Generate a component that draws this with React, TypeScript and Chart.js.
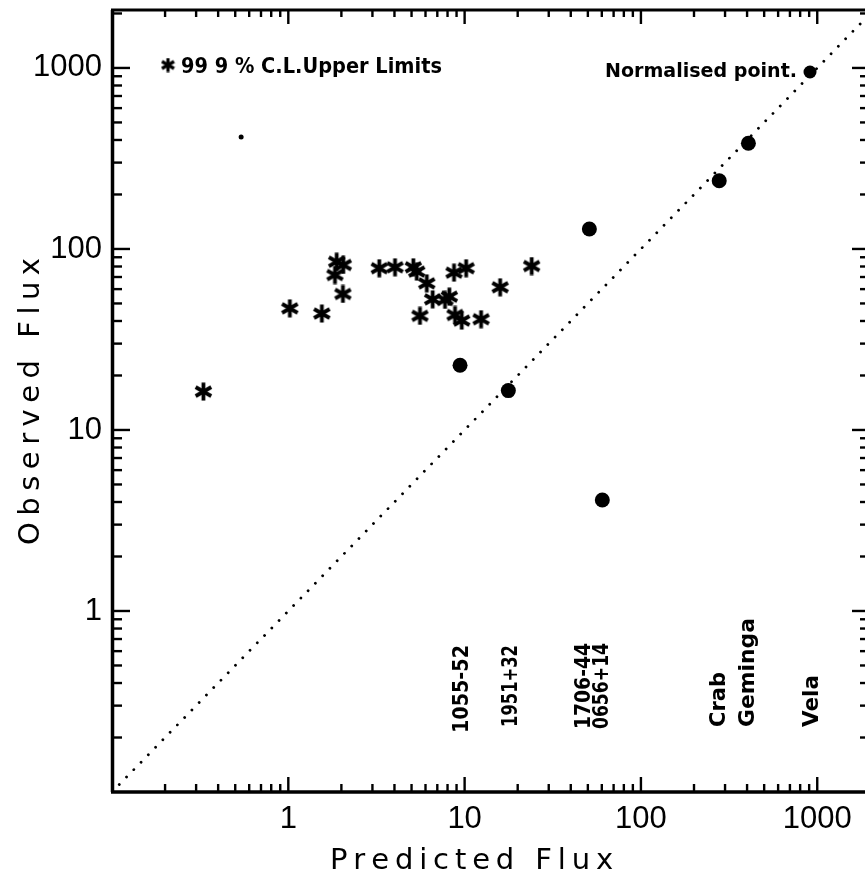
import React, { useEffect, useRef } from 'react';
import { Chart, registerables } from 'chart.js';
Chart.register(...registerables);

// ---- data ----
const pulsarNames = ['Vela', 'Geminga', 'Crab', '1706-44', '0656+14', '1951+32', '1055-52'];
const detectedX = [910, 407, 278, 51, 60.4, 17.7, 9.42];
const detectedY = [950, 384, 238, 129, 4.1, 16.5, 22.8];

const upperLimitX = [0.33, 1.02, 1.55, 1.88, 2.05, 1.84, 2.04, 3.28, 4.03, 5.12, 5.35, 6.1, 6.59, 7.74, 8.19, 5.58, 8.71, 10.2, 8.82, 9.63, 12.4, 15.9, 24.0];
const upperLimitY = [16.3, 47, 44, 85, 81.6, 71.8, 56.4, 78.3, 79.2, 79.2, 75, 64.6, 52.7, 52.3, 54.5, 42.7, 74, 78.3, 43.2, 40.2, 40.9, 61.4, 80.5];

const strayX = [0.54];
const strayY = [416];

const diagonalValues = [0.1, 2100];

const xTickValues = [1, 10, 100, 1000];
const yTickValues = [1, 10, 100, 1000];
const xRange = [0.1, 1866];
const yRange = [0.1, 2090];

const legendText = '99 9 % C.L.Upper Limits';
const normText = 'Normalised point.';
const xTitle = 'Predicted Flux';
const yTitle = 'Observed Flux';

// ---- styles (label placement) ----
const labelStyle: Record<string, { dx: number; y0: number; len: number }> = {
  'Vela': { dx: 8, y0: 727, len: 52 },
  'Geminga': { dx: 6, y0: 727, len: 109 },
  'Crab': { dx: 6, y0: 727, len: 55 },
  '1706-44': { dx: 1, y0: 729, len: 86 },
  '0656+14': { dx: 6, y0: 729, len: 86 },
  '1951+32': { dx: 9, y0: 727, len: 82 },
  '1055-52': { dx: 8, y0: 733, len: 88 },
};

const W = 865;
const H = 875;
const TICK_FONT = '31px "Liberation Sans", Arial, sans-serif';

function makeAsterisk(size: number, lw: number) {
  const c = document.createElement('canvas');
  c.width = size;
  c.height = size;
  const ctx = c.getContext('2d')!;
  ctx.strokeStyle = '#000';
  ctx.lineWidth = lw;
  ctx.lineCap = 'butt';
  const m = size / 2;
  const r = size / 2 - 0.5;
  [90, 30, 150].forEach((deg) => {
    const a = (deg * Math.PI) / 180;
    const dx = Math.cos(a) * r;
    const dy = Math.sin(a) * r;
    ctx.beginPath();
    ctx.moveTo(m - dx, m - dy);
    ctx.lineTo(m + dx, m + dy);
    ctx.stroke();
  });
  return c;
}

function drawText(
  ctx: CanvasRenderingContext2D,
  text: string,
  x: number,
  y: number,
  font: string,
  targetW: number,
  rot: number,
  mode: 'scale' | 'space'
) {
  ctx.save();
  ctx.translate(x, y);
  ctx.rotate(rot);
  ctx.font = font;
  ctx.fillStyle = '#000';
  ctx.textAlign = 'left';
  ctx.textBaseline = 'alphabetic';
  const w = ctx.measureText(text).width;
  if (mode === 'scale') {
    ctx.scale(targetW / w, 1);
    ctx.fillText(text, 0, 0);
  } else {
    const chars = Array.from(text);
    const extra = (targetW - w) / (chars.length - 1);
    let cx = 0;
    chars.forEach((ch) => {
      ctx.fillText(ch, cx, 0);
      cx += ctx.measureText(ch).width + extra;
    });
  }
  ctx.restore();
}

export default function App() {
  const ref = useRef<HTMLCanvasElement | null>(null);

  useEffect(() => {
    if (!ref.current) return;
    const star = makeAsterisk(19, 3.8);
    const legendStar = makeAsterisk(15, 3.2);

    // stretch the plot area (and the x scale) to the right edge of the canvas
    const fullWidthPlugin = {
      id: 'fullWidth',
      afterLayout(chart: any) {
        const xs = chart.scales.x;
        const target = chart.width;
        chart.chartArea.right = target;
        chart.chartArea.width = target - chart.chartArea.left;
        xs.right = target;
        xs.width = target - xs.left;
        xs.configure();
      },
    };

    const framePlugin = {
      id: 'frameAndText',
      afterDatasetsDraw(chart: any) {
        const ctx: CanvasRenderingContext2D = chart.ctx;
        const xs = chart.scales.x;
        const ys = chart.scales.y;
        const { left, right, top, bottom } = chart.chartArea;
        ctx.save();
        ctx.strokeStyle = '#000';
        ctx.lineCap = 'butt';
        ctx.lineWidth = 3.5;
        ctx.beginPath();
        ctx.moveTo(left + 0.5, top);
        ctx.lineTo(left + 0.5, bottom);
        ctx.stroke();
        ctx.beginPath();
        ctx.moveTo(left - 1, bottom);
        ctx.lineTo(right + 2, bottom);
        ctx.stroke();
        ctx.lineWidth = 3;
        ctx.beginPath();
        ctx.moveTo(left - 1, top);
        ctx.lineTo(right + 2, top);
        ctx.stroke();
        ctx.lineWidth = 2.4;
        const rightEdge = right + 2;
        for (let k = -1; k <= 3; k++) {
          for (let m = 1; m <= 9; m++) {
            const v = m * Math.pow(10, k);
            const major = m === 1;
            if (v > xRange[0] * 1.01 && v < xRange[1]) {
              const px = xs.getPixelForValue(v);
              ctx.beginPath();
              ctx.moveTo(px, bottom);
              ctx.lineTo(px, bottom - (major ? 15 : 8));
              ctx.stroke();
              ctx.beginPath();
              ctx.moveTo(px, top);
              ctx.lineTo(px, top + (major ? 14 : 7));
              ctx.stroke();
            }
            if (v > yRange[0] * 1.01 && v < yRange[1]) {
              const py = ys.getPixelForValue(v);
              ctx.beginPath();
              ctx.moveTo(left, py);
              ctx.lineTo(left + (major ? 18 : 10), py);
              ctx.stroke();
              ctx.beginPath();
              ctx.moveTo(rightEdge, py);
              ctx.lineTo(rightEdge - (major ? 15 : 7), py);
              ctx.stroke();
            }
          }
        }

        // x tick labels, placed by the x scale
        ctx.font = TICK_FONT;
        ctx.fillStyle = '#000';
        ctx.textAlign = 'center';
        ctx.textBaseline = 'alphabetic';
        xTickValues.forEach((v) => {
          ctx.fillText(String(v), xs.getPixelForValue(v), bottom + 36);
        });
        ctx.restore();

        drawText(ctx, xTitle, 330, 869, '29px "DejaVu Sans"', 282, 0, 'space');
        drawText(ctx, yTitle, 39, 545, '29px "DejaVu Sans"', 287, -Math.PI / 2, 'space');

        ctx.drawImage(legendStar, 168 - legendStar.width / 2, 65 - legendStar.height / 2);
        drawText(ctx, legendText, 181, 73, 'bold 21px "DejaVu Sans"', 261, 0, 'scale');
        drawText(ctx, normText, 605, 77, 'bold 20px "DejaVu Sans"', 192, 0, 'scale');

        pulsarNames.forEach((name, i) => {
          const st = labelStyle[name];
          const px = xs.getPixelForValue(detectedX[i]) + st.dx;
          drawText(ctx, name, px, st.y0, 'bold 22px "DejaVu Sans"', st.len, -Math.PI / 2, 'scale');
        });
      },
    };

    const tickFont = { family: '"Liberation Sans", Arial, sans-serif', size: 31 };

    const chart = new Chart(ref.current, {
      type: 'scatter',
      data: {
        datasets: [
          {
            label: 'y = x',
            data: diagonalValues.map((v) => ({ x: v, y: v })),
            showLine: true,
            borderColor: '#000',
            borderWidth: 2.8,
            borderDash: [0.01, 10.4],
            borderCapStyle: 'round',
            pointRadius: 0,
            fill: false,
          } as any,
          {
            label: 'Detected',
            data: detectedX.map((x, i) => ({ x, y: detectedY[i] })),
            pointStyle: 'circle',
            pointRadius: detectedX.map((_, i) => (i === 0 ? 6.5 : 7.5)),
            backgroundColor: '#000',
            borderWidth: 0,
          },
          {
            label: 'Upper limits',
            data: upperLimitX.map((x, i) => ({ x, y: upperLimitY[i] })),
            pointStyle: star as any,
            pointRadius: 9,
          },
          {
            label: 'Other',
            data: strayX.map((x, i) => ({ x, y: strayY[i] })),
            pointStyle: 'circle',
            pointRadius: 2.5,
            backgroundColor: '#000',
            borderWidth: 0,
          },
        ],
      },
      options: {
        animation: false,
        responsive: true,
        maintainAspectRatio: false,
        events: [],
        layout: { padding: { top: 10, right: 0, left: 0, bottom: 0 } },
        plugins: {
          legend: { display: false },
          tooltip: { enabled: false },
          title: { display: false },
        },
        scales: {
          x: {
            type: 'logarithmic',
            position: 'bottom',
            min: xRange[0],
            max: xRange[1],
            grid: { display: false, drawTicks: false },
            border: { display: false },
            ticks: { display: false },
            afterBuildTicks: (s: any) => {
              s.ticks = xTickValues.map((value) => ({ value }));
            },
            afterFit: (s: any) => {
              s.height = 83;
              s.paddingLeft = 0;
              s.paddingRight = 0;
              s.paddingTop = 0;
              s.paddingBottom = 0;
            },
          },
          y: {
            type: 'logarithmic',
            position: 'left',
            min: yRange[0],
            max: yRange[1],
            grid: { display: false, drawTicks: false },
            border: { display: false },
            ticks: {
              color: '#000',
              font: tickFont,
              padding: 10,
              autoSkip: false,
              callback: (v: any) => String(Number(v)),
            },
            afterBuildTicks: (s: any) => {
              s.ticks = yTickValues.map((value) => ({ value }));
            },
            afterFit: (s: any) => {
              s.width = 112;
              s.paddingTop = 0;
              s.paddingBottom = 0;
              s.paddingLeft = 0;
              s.paddingRight = 0;
            },
          },
        },
      },
      plugins: [fullWidthPlugin, framePlugin],
    });

    return () => chart.destroy();
  }, []);

  return (
    <div style={{ position: 'fixed', left: 0, top: 0, width: W, height: H, background: '#fff' }}>
      <canvas ref={ref} />
    </div>
  );
}
